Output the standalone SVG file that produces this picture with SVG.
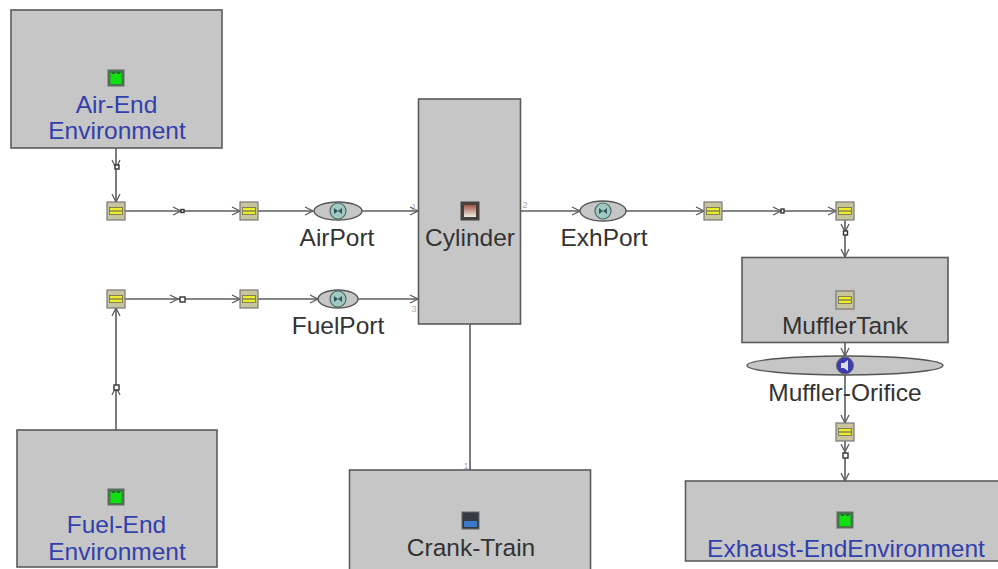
<svg xmlns="http://www.w3.org/2000/svg" width="998" height="569" viewBox="0 0 998 569">
<style>
text{font-family:"Liberation Sans",Arial,sans-serif;font-size:24.500px;fill:#333;text-anchor:middle}
.b{fill:#3240ac}
.n{font-size:9px;fill:#aaa}
.box{fill:#c6c6c6;stroke:#5a5a5a;stroke-width:1.6}
.l{fill:none;stroke:#5c5c5c;stroke-width:1.600}
.ell{fill:#c6c6c6;stroke:#555;stroke-width:1.400}
.pb{fill:#c8c49c;stroke:#777;stroke-width:1.200}
.py{fill:#ecec30;stroke:#6a6a50;stroke-width:0.800}
.tee{fill:#fff;stroke:#333;stroke-width:1.400}
</style>
<defs>
<linearGradient id="cyl" x1="0" y1="0" x2="0" y2="1"><stop offset="0" stop-color="#a0584c"/><stop offset="1" stop-color="#f0ece4"/></linearGradient>
<marker id="a" viewBox="0 0 10 10" refX="9" refY="5" markerWidth="10" markerHeight="10" markerUnits="userSpaceOnUse" orient="auto"><path d="M1 1L9 5L1 9" fill="none" stroke="#5c5c5c" stroke-width="1.300"/></marker>
<g id="pipe"><rect class="pb" x="-9" y="-9" width="18" height="18"/><rect class="py" x="-6.500" y="-3.500" width="13" height="7"/><path d="M-6 0H6" stroke="#555"/></g>
<g id="env"><rect x="-8" y="-8" width="16" height="16" fill="#3f7a46" stroke="#666"/><rect x="-5.500" y="-5" width="11" height="11" fill="#10e010"/><path d="M-4-5H-1M1-5H4" stroke="#2a6a30" stroke-width="2"/></g>
<g id="port"><circle r="8" fill="#a2c8c2" stroke="#4a6a6a" stroke-width="1.200"/><path d="M-4-3L4 3V-3L-4 3Z" fill="#2f5a58"/></g>
</defs>
<g id="connectors">
<path class="l" d="M116 148V168" marker-end="url(#a)"/>
<path class="l" d="M116 168V202" marker-end="url(#a)"/>
<path class="l" d="M125 211H181" marker-end="url(#a)"/>
<path class="l" d="M181 211H240" marker-end="url(#a)"/>
<path class="l" d="M258 211H313" marker-end="url(#a)"/>
<path class="l" d="M362 211H418" marker-end="url(#a)"/>
<path class="l" d="M520 211H580" marker-end="url(#a)"/>
<path class="l" d="M626 211H704" marker-end="url(#a)"/>
<path class="l" d="M722 211H781" marker-end="url(#a)"/>
<path class="l" d="M781 211H836" marker-end="url(#a)"/>
<path class="l" d="M845 220V232" marker-end="url(#a)"/>
<path class="l" d="M845 232V257" marker-end="url(#a)"/>
<path class="l" d="M125 299H178" marker-end="url(#a)"/>
<path class="l" d="M178 299H240" marker-end="url(#a)"/>
<path class="l" d="M258 299H318" marker-end="url(#a)"/>
<path class="l" d="M358 299H418" marker-end="url(#a)"/>
<path class="l" d="M116 430V387" marker-end="url(#a)"/>
<path class="l" d="M116 387V308" marker-end="url(#a)"/>
<path class="l" d="M470 324V470"/>
<path class="l" d="M845 342V356" marker-end="url(#a)"/>
<path class="l" d="M845 374V423" marker-end="url(#a)"/>
<path class="l" d="M845 441V452" marker-end="url(#a)"/>
<path class="l" d="M845 452V481" marker-end="url(#a)"/>
<rect class="tee" x="115" y="165" width="4" height="4"/>
<rect class="tee" x="181" y="209.500" width="3" height="3"/>
<rect class="tee" x="781" y="209" width="3" height="4"/>
<rect class="tee" x="180" y="297" width="5" height="5"/>
<rect class="tee" x="114" y="385" width="5" height="5"/>
<rect class="tee" x="843.500" y="231" width="4" height="4"/>
<rect class="tee" x="843" y="453" width="5" height="5"/>
</g>
<g id="air-end"><rect class="box" x="11" y="10" width="211" height="138"/><use href="#env" x="116" y="78"/><text class="b" x="116.500" y="113">Air-End</text><text class="b" x="117" y="139">Environment</text></g>
<g id="fuel-end"><rect class="box" x="17" y="430" width="200" height="137"/><use href="#env" x="116" y="497"/><text class="b" x="116.500" y="533">Fuel-End</text><text class="b" x="117" y="560">Environment</text></g>
<g id="cylinder"><rect class="box" x="418.500" y="99" width="102" height="225"/><rect x="461" y="202" width="18" height="18" fill="#4a4038" stroke="#444"/><rect x="464" y="205" width="12" height="12" fill="url(#cyl)"/><text x="470" y="246">Cylinder</text><text class="n" x="414" y="210">1</text><text class="n" x="525" y="208">2</text><text class="n" x="414" y="312">3</text></g>
<g id="crank-train"><rect class="box" x="349.500" y="470" width="241" height="105"/><rect x="462" y="512" width="17" height="17" fill="#333a44" stroke="#666"/><rect x="464" y="521" width="13" height="6" fill="#3a7ac8"/><text x="471" y="556">Crank-Train</text><text class="n" x="466" y="469">1</text></g>
<g id="muffler-tank"><rect class="box" x="742" y="257.500" width="206" height="85"/><use href="#pipe" x="845" y="300"/><text x="845" y="334">MufflerTank</text></g>
<g id="muffler-orifice"><ellipse class="ell" cx="845" cy="365.500" rx="98" ry="9.500"/><circle cx="845" cy="365.500" r="8.500" fill="#3c3cb0" stroke="#666"/><path d="M841 363H844L848 360V371L844 368H841Z" fill="#dde"/><text x="845" y="400.500">Muffler-Orifice</text></g>
<g id="exhaust-end"><rect class="box" x="685.500" y="481" width="320" height="80"/><use href="#env" x="845" y="520"/><text class="b" x="846" y="557">Exhaust-EndEnvironment</text></g>
<g id="v1"><use href="#pipe" x="116" y="211"/></g>
<g id="v2"><use href="#pipe" x="249" y="211"/></g>
<g id="air-port"><ellipse class="ell" cx="338" cy="211" rx="24" ry="9"/><use href="#port" x="338" y="211"/><text x="337" y="246">AirPort</text></g>
<g id="v3"><use href="#pipe" x="116" y="299"/></g>
<g id="v4"><use href="#pipe" x="249" y="299"/></g>
<g id="fuel-port"><ellipse class="ell" cx="338" cy="299" rx="20" ry="9"/><use href="#port" x="338" y="299"/><text x="338" y="334">FuelPort</text></g>
<g id="exh-port"><ellipse class="ell" cx="603" cy="211" rx="23" ry="10"/><use href="#port" x="603" y="211"/><text x="604" y="246">ExhPort</text></g>
<g id="v5"><use href="#pipe" x="713" y="211"/></g>
<g id="v6"><use href="#pipe" x="845" y="211"/></g>
<g id="v7"><use href="#pipe" x="845" y="432"/></g>
</svg>
